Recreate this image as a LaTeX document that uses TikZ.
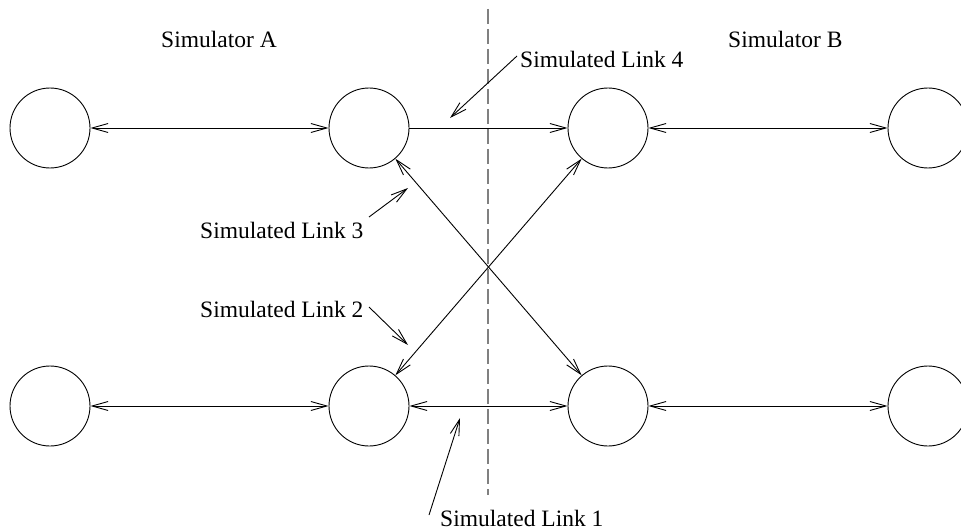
\documentclass[tikz,border=0pt]{standalone}
\usepackage{fontspec}
\setmainfont{Liberation Serif}
\usetikzlibrary{arrows.meta}
\begin{document}
\begin{tikzpicture}[x=1pt,y=-1pt,
  site/.style={draw,circle,minimum size=80pt,inner sep=0pt,line width=0.9pt},
  lbl/.style={inner sep=0pt,font=\fontsize{23.5}{28}\selectfont},
  tip/.style={Straight Barb[length=16pt,width=9pt]},
  link/.style={line width=0.9pt},
  pointer/.style={line width=0.9pt,-{Straight Barb[length=16pt,width=9pt]}}]
\useasboundingbox (0,0) rectangle (961,532);
\draw[gray,line width=1.4pt,dash pattern=on 15pt off 5pt] (488,9) -- (488,495);
\node[site] (t1) at (50,128) {};
\node[site] (t2) at (369,128) {};
\node[site] (t3) at (608,128) {};
\node[site] (t4) at (928,128) {};
\node[site] (b1) at (50,406) {};
\node[site] (b2) at (369,406) {};
\node[site] (b3) at (608,406) {};
\node[site] (b4) at (928,406) {};
\draw[link,{Straight Barb[length=16pt,width=9pt]}-{Straight Barb[length=16pt,width=9pt]}] (t1) -- (t2);
\draw[link,-{Straight Barb[length=16pt,width=9pt]}] (t2) -- (t3);
\draw[link,{Straight Barb[length=16pt,width=9pt]}-{Straight Barb[length=16pt,width=9pt]}] (t3) -- (t4);
\draw[link,{Straight Barb[length=16pt,width=9pt]}-{Straight Barb[length=16pt,width=9pt]}] (b1) -- (b2);
\draw[link,{Straight Barb[length=16pt,width=9pt]}-{Straight Barb[length=16pt,width=9pt]}] (b2) -- (b3);
\draw[link,{Straight Barb[length=16pt,width=9pt]}-{Straight Barb[length=16pt,width=9pt]}] (b3) -- (b4);
\draw[link,{Straight Barb[length=16pt,width=9pt]}-{Straight Barb[length=16pt,width=9pt]}] (t2) -- (b3);
\draw[link,{Straight Barb[length=16pt,width=9pt]}-{Straight Barb[length=16pt,width=9pt]}] (b2) -- (t3);
\node[lbl,anchor=base west] (sa) at (161,48) {Simulator A};
\node[lbl,anchor=base west] (sb) at (728,48) {Simulator B};
\node[lbl,anchor=base west] (l4) at (520,68) {Simulated Link 4};
\node[lbl,anchor=base west] (l3) at (200,238) {Simulated Link 3};
\node[lbl,anchor=base west] (l2) at (200,317) {Simulated Link 2};
\node[lbl,anchor=base west] (l1) at (440,526) {Simulated Link 1};
\coordinate (s4) at (517,56);  \coordinate (p4) at (450,118);
\coordinate (s3) at (369,217); \coordinate (p3) at (408,188);
\coordinate (s2) at (369,307); \coordinate (p2) at (408,345);
\coordinate (s1) at (429,515); \coordinate (p1) at (460,418);
\draw[pointer] (s4) -- (p4);
\draw[pointer] (s3) -- (p3);
\draw[pointer] (s2) -- (p2);
\draw[pointer] (s1) -- (p1);
\end{tikzpicture}
\end{document}
